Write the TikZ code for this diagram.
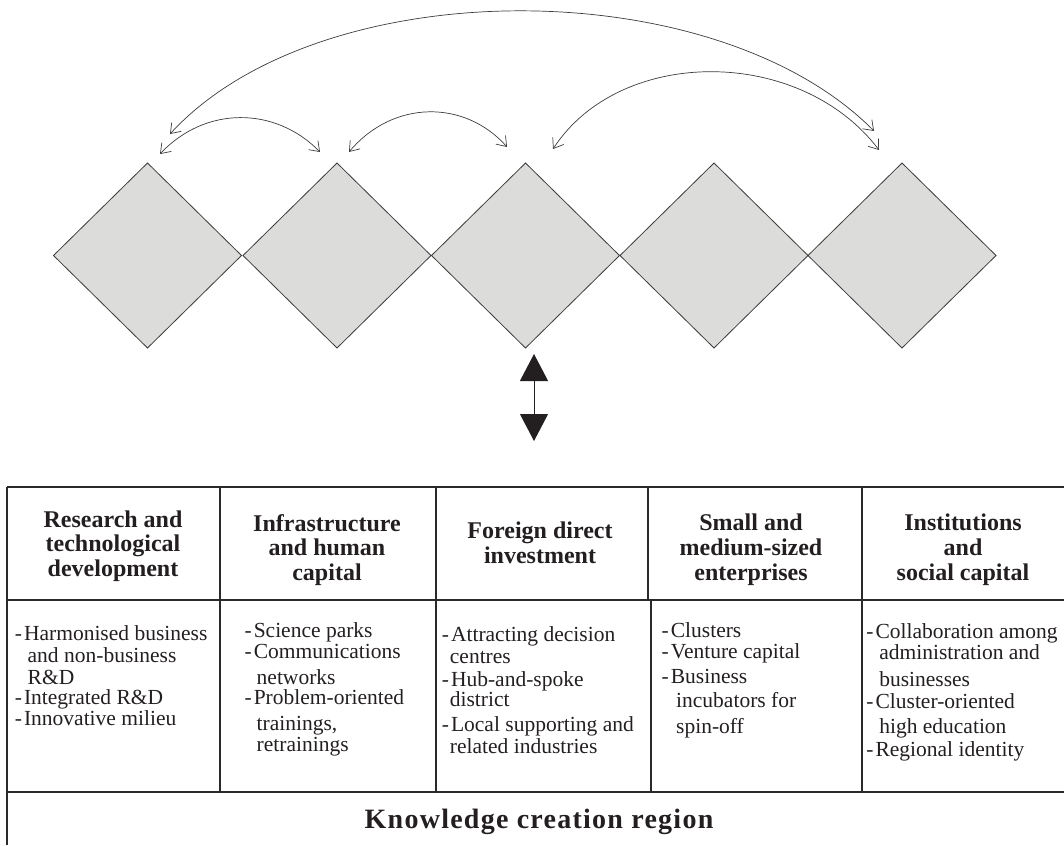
\documentclass[tikz,border=0pt]{standalone}
\usepackage{fontspec}
\setmainfont{Liberation Serif}
\newfontfamily\spacedfont[LetterSpace=4.5]{Liberation Serif}
\usetikzlibrary{shapes.geometric,arrows.meta}
\definecolor{dfill}{HTML}{DCDCDA}
\definecolor{dline}{HTML}{3C3C3C}
\definecolor{txt}{HTML}{231F20}
\definecolor{tline}{HTML}{2A2A2A}
\newcommand{\itm}{-\kern2pt}
\begin{document}
\begin{tikzpicture}[x=1pt,y=-1pt,
  dia/.style={shape=diamond, draw=dline, line width=0.8pt, fill=dfill,
    minimum width=188pt, minimum height=185pt, inner sep=0pt, outer sep=0pt},
  link/.style={draw=dline, line width=0.7pt,
    {Straight Barb[length=9pt,width=13pt]}-{Straight Barb[length=9pt,width=13pt]}},
  bigarrow/.style={draw=txt, fill=txt, line width=1pt,
    {Triangle[length=27pt,width=28pt]}-{Triangle[length=27pt,width=28pt]}},
  tbl/.style={draw=tline, line width=1.2pt},
  hdr/.style={anchor=north, inner sep=0pt, align=center, text=txt,
    font=\fontsize{24}{24.6}\selectfont\bfseries},
  body/.style={anchor=north west, inner sep=0pt, align=left, text=txt,
    font=\fontsize{21.5}{20}\selectfont},
  foot/.style={anchor=base, inner sep=0pt, text=txt,
    font=\spacedfont\fontsize{28}{30}\selectfont\bfseries}
]
\useasboundingbox (0,0) rectangle (1064,845);

% diamonds
\node[dia] (d1) at (147.5,255.5) {};
\node[dia] (d2) at (337,255.5) {};
\node[dia] (d3) at (525.5,255.5) {};
\node[dia] (d4) at (714,255.5) {};
\node[dia] (d5) at (902,255.5) {};

% arc end points
\coordinate (b1) at (170,134);
\coordinate (b2) at (874,131);
\coordinate (p1) at (160,154);
\coordinate (p2) at (320,152);
\coordinate (q1) at (349,152);
\coordinate (q2) at (507,147);
\coordinate (r1) at (553,149);
\coordinate (r2) at (879,150);

\draw[link] (b1) .. controls (320,-29.5) and (715,-29.5) .. (b2);
\draw[link] (p1) .. controls (205,106) and (275,106) .. (p2);
\draw[link] (q1) .. controls (393,99.5) and (465,99.5) .. (q2);
\draw[link] (r1) .. controls (620,46) and (800,46) .. (r2);

% vertical double arrow
\coordinate (u) at (534,354);
\coordinate (v) at (534,441);
\draw[bigarrow] (u) -- (v);

% table lines
\draw[tbl] (7,487) -- (1064,487);
\draw[tbl] (7,600) -- (1064,600);
\draw[tbl] (7,792) -- (1064,792);
\draw[tbl] (7,487) -- (7,845);
\draw[tbl] (220,487) -- (220,792);
\draw[tbl] (436,487) -- (436,792);
\draw[tbl] (648,487) -- (648,600);
\draw[tbl] (651,600) -- (651,792);
\draw[tbl] (862,487) -- (862,792);

% header cells
\node[hdr] (h1) at (113,510.5) {Research and\\technological\\development};
\node[hdr] (h2) at (327,514) {Infrastructure\\and human\\capital};
\node[hdr] (h3) at (540,522) {Foreign direct\\investment};
\node[hdr] (h4) at (751,514) {Small and\\medium-sized\\enterprises};
\node[hdr] (h5) at (963,514) {Institutions\\and\\social capital};

% body cells
\node[body] (c1) at (14.7,625) {\itm Harmonised business\\[2pt]
  \hspace*{12.8pt}and non-business\\[2.5pt]
  \hspace*{12.8pt}R\&D\\[0.3pt]
  \itm Integrated R\&D\\[0.5pt]
  \itm Innovative milieu};
\node[body] (c2) at (244.4,622) {\itm Science parks\\[1.7pt]
  \itm Communications\\[5.6pt]
  \hspace*{12.1pt}networks\\[-0.3pt]
  \itm Problem-oriented\\[6.3pt]
  \hspace*{12.1pt}trainings,\\[1pt]
  \hspace*{12.1pt}retrainings};
\node[body] (c3) at (441.7,626) {\itm Attracting decision\\[2.3pt]
  \hspace*{8pt}centres\\[3.3pt]
  \itm Hub-and-spoke\\[-0.5pt]
  \hspace*{8pt}district\\[5.5pt]
  \itm Local supporting and\\[1.7pt]
  \hspace*{8pt}related industries};
\node[body] (c4) at (661.5,622) {\itm Clusters\\[1.7pt]
  \itm Venture capital\\[5pt]
  \itm Business\\[3.3pt]
  \hspace*{14.5pt}incubators for\\[6.7pt]
  \hspace*{14.5pt}spin-off};
\node[body] (c5) at (866.2,623) {\itm Collaboration among\\[1.7pt]
  \hspace*{12.9pt}administration and\\[6.3pt]
  \hspace*{12.9pt}businesses\\[2pt]
  \itm Cluster-oriented\\[5.7pt]
  \hspace*{12.9pt}high education\\[2.3pt]
  \itm Regional identity};

% footer
\node[foot] (kc) at (539,828) {Knowledge creation region};
\end{tikzpicture}
\end{document}
